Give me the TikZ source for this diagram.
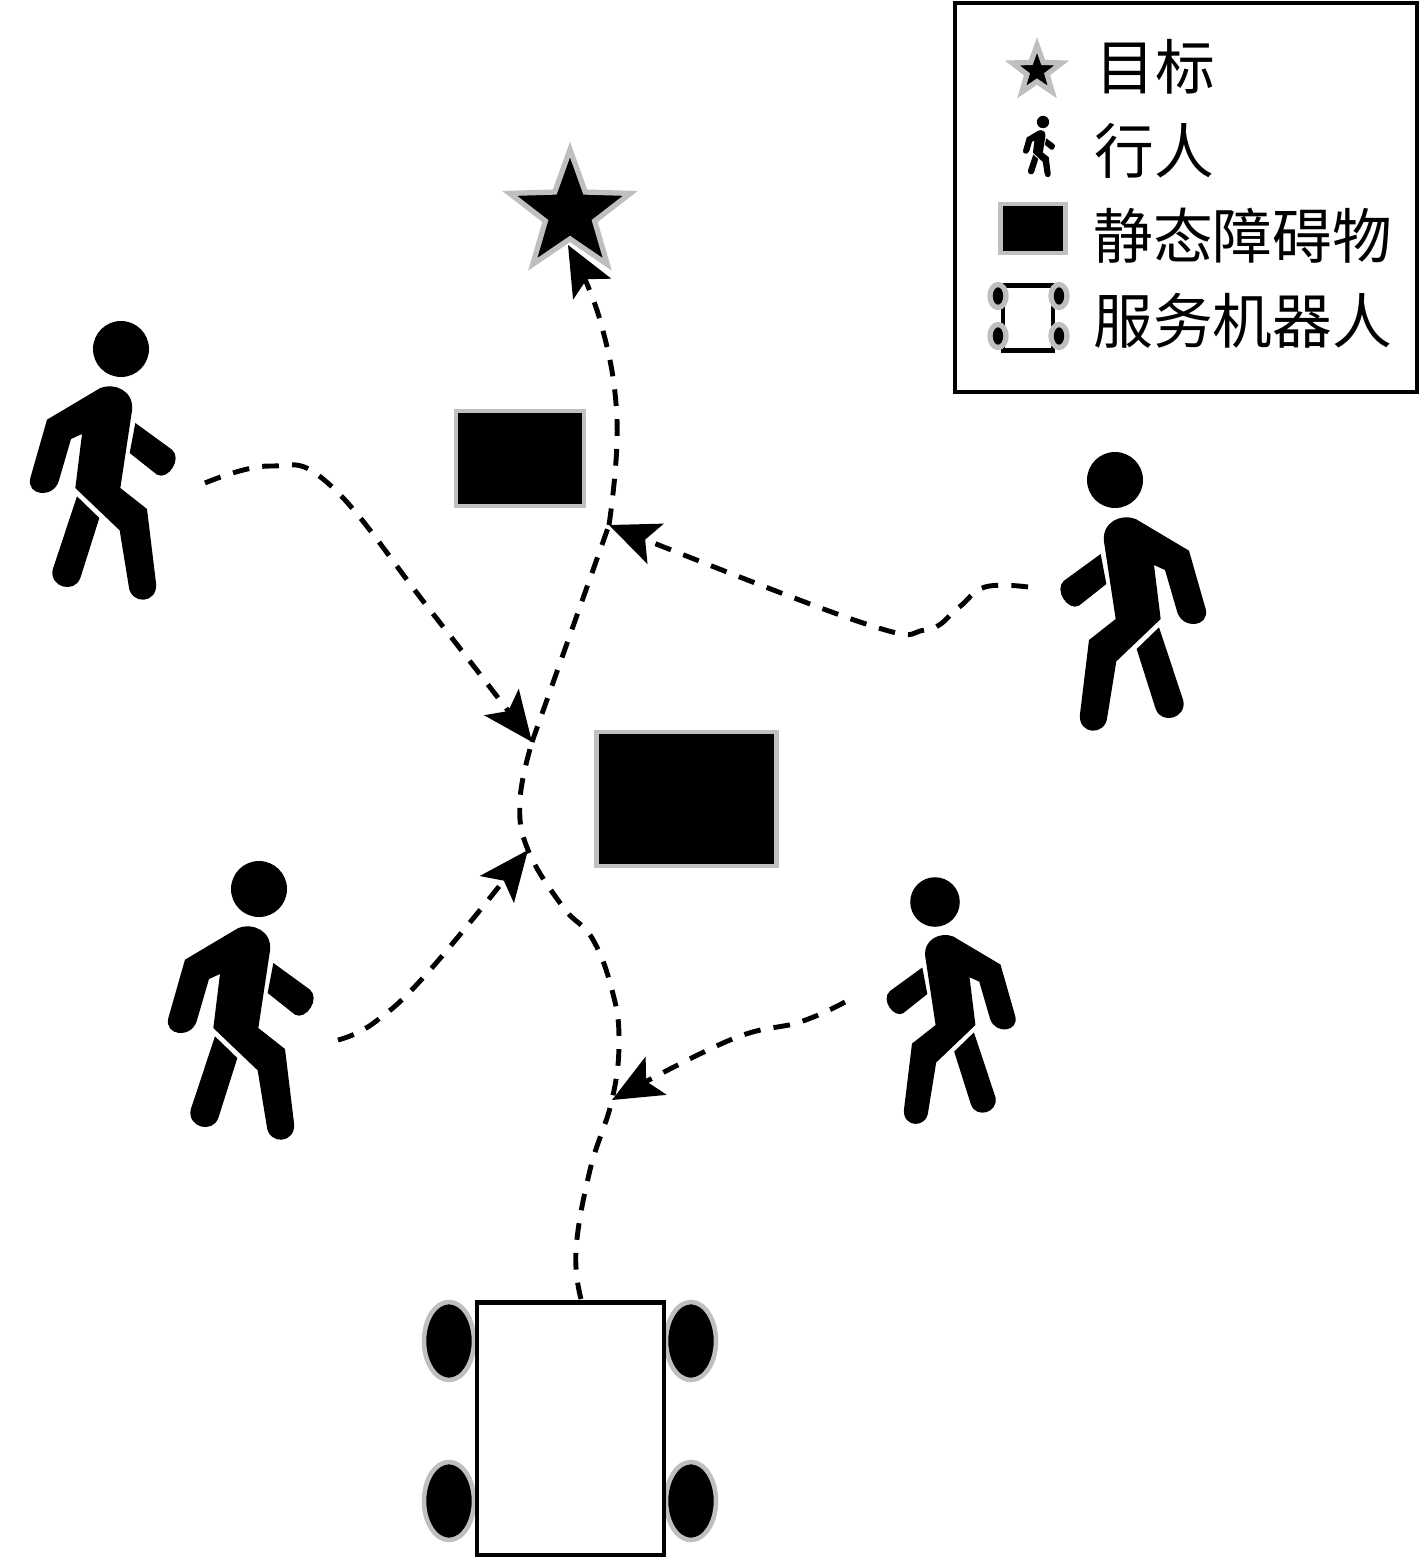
\documentclass[tikz,border=0pt]{standalone}
\usepackage{fontspec}
\newfontfamily\cjk{Noto Sans CJK SC}
\usetikzlibrary{arrows.meta,shapes.geometric}
\definecolor{edgegray}{gray}{0.75}
\tikzset{
    route/.style={line width=2.8pt,dash pattern=on 9.5pt off 7.5pt},
    routeend/.style={route,-{Stealth[length=1.0cm,width=0.86cm,inset=0.22cm]}},
    obstacle/.style={draw=edgegray,fill=black,line width=2.7pt,inner sep=0pt},
    goalmark/.style={star,star points=5,star point ratio=2.45,draw=edgegray,fill=black,line width=3pt,inner sep=0pt},
    wheel/.style={ellipse,draw=edgegray,fill=black,line width=2.6pt,inner sep=0pt,minimum width=1.0cm,minimum height=1.56cm},
    smallwheel/.style={ellipse,draw=edgegray,fill=black,line width=3pt,inner sep=0pt,minimum width=0.32cm,minimum height=0.46cm},
    legendtext/.style={anchor=west,inner sep=0pt,font=\cjk\fontsize{34}{34}\selectfont},
    walker/.pic={
        \fill (0,0) circle [radius=84];
        \fill (-62,117) .. controls (-20,100) and (40,125) .. (33,185)
            -- (-2,417) -- (78,480) -- (105,702)
            .. controls (112,765) and (28,770) .. (23,710)
            -- (-4,544) -- (-137,417) -- (-117,255) -- (-150,270) -- (-187,397)
            .. controls (-205,450) and (-285,440) .. (-272,387)
            -- (-222,212) -- cycle;
        \fill (43,222) -- (153,302) .. controls (185,330) and (140,395) .. (108,377)
            -- (26,312) -- cycle;
        \fill (-132,442) -- (-65,507) -- (-122,687)
            .. controls (-140,735) and (-215,715) .. (-205,662) -- cycle;
    },
}
\begin{document}
\begin{tikzpicture}[x=0.02cm,y=-0.02cm]
    \useasboundingbox (0,0) rectangle (1420,1559);
    % legend
    \draw[line width=2.7pt] (955,3) rectangle (1417,392);
    \node[goalmark,minimum size=1.04cm] (legendgoal) at (1037,71) {};
    \pic[scale=0.0733] at (1043,122) {walker};
    \node[obstacle,minimum width=1.3cm,minimum height=0.98cm] (legendobs) at (1033,228.5) {};
    \node[draw,fill=white,line width=2.8pt,inner sep=0pt,minimum width=1.0cm,minimum height=1.3cm] (legendbot) at (1028,318) {};
    \node[smallwheel] (lw1) at (998,296) {};
    \node[smallwheel] (lw2) at (1059,296) {};
    \node[smallwheel] (lw3) at (998,336) {};
    \node[smallwheel] (lw4) at (1059,336) {};
    \node[legendtext] (txtgoal) at (1095,67) {目标};
    \node[legendtext] (txtped) at (1094,151) {行人};
    \node[legendtext] (txtobs) at (1093,236) {静态障碍物};
    \node[legendtext] (txtbot) at (1093,321) {服务机器人};
    % obstacles, goal, pedestrians
    \node[goalmark,minimum size=2.54cm] (goal) at (570,213) {};
    \node[obstacle,minimum width=2.56cm,minimum height=1.9cm] (obsA) at (520,458.5) {};
    \node[obstacle,minimum width=3.6cm,minimum height=2.68cm] (obsB) at (686.5,799) {};
    \pic[scale=1/3] at (121,349) {walker};
    \pic[xscale=-1/3,yscale=1/3] at (1115,480) {walker};
    \pic[scale=1/3] at (259,889) {walker};
    \pic[xscale=-0.295,yscale=0.295] at (935,902) {walker};
    % robot
    \node[wheel] (wheelA) at (449,1341) {};
    \node[wheel] (wheelB) at (691,1341) {};
    \node[wheel] (wheelC) at (449,1501) {};
    \node[wheel] (wheelD) at (691,1501) {};
    \node[draw,fill=white,line width=2.8pt,inner sep=0pt,minimum width=3.74cm,minimum height=5.06cm] (robot) at (570.5,1428.5) {};
    % junctions and free ends
    \coordinate (joinA) at (612,1100);
    \coordinate (joinB) at (528,850);
    \coordinate (joinC) at (532,742);
    \coordinate (joinD) at (609,525);
    \coordinate (goaltip) at (568,245);
    \coordinate (botout) at (581,1299);
    \coordinate (pedA) at (205,483);
    \coordinate (pedB) at (1028,587);
    \coordinate (pedC) at (338,1040);
    \coordinate (pedD) at (845,1002);
    % robot route
    \draw[route] plot[smooth,tension=0.7] coordinates
        {(botout) (576,1250) (590,1170) (joinA) (619,1040) (612,990) (592,938) (563,907) (joinB) (520,800) (joinC)};
    \draw[route] (joinC) -- (joinD);
    \draw[routeend] plot[smooth,tension=0.7] coordinates
        {(joinD) (617,420) (600,320) (goaltip)};
    % pedestrian routes
    \draw[routeend] plot[smooth,tension=0.7] coordinates
        {(pedA) (270,466) (330,485) (430,610) (joinC)};
    \draw[routeend] plot[smooth,tension=0.7] coordinates
        {(pedB) (985,587) (958,608) (925,630) (860,622) (joinD)};
    \draw[routeend] plot[smooth,tension=0.7] coordinates
        {(pedC) (375,1022) (430,970) (joinB)};
    \draw[routeend] plot[smooth,tension=0.7] coordinates
        {(pedD) (800,1022) (730,1040) (joinA)};
\end{tikzpicture}
\end{document}
